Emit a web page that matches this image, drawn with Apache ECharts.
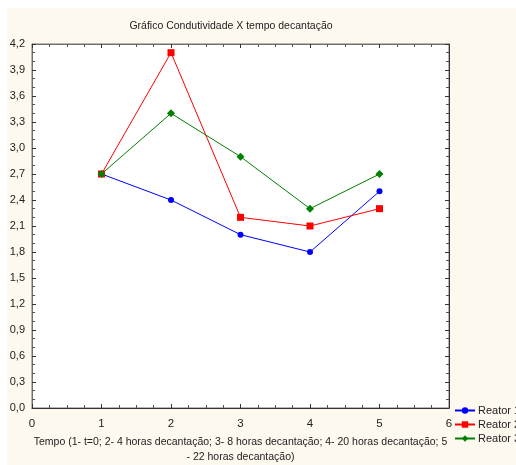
<!DOCTYPE html>
<html><head><meta charset="utf-8">
<script src="https://cdn.jsdelivr.net/npm/echarts@6/dist/echarts.min.js"></script>
<style>html,body{margin:0;padding:0;background:#fff}#c{width:516px;height:465px}</style>
</head><body><div id="c"></div>
<script>
var categories = [1, 2, 3, 4, 5];
var reator1 = [2.7, 2.4, 2.0, 1.8, 2.5];
var reator2 = [2.7, 4.1, 2.2, 2.1, 2.3];
var reator3 = [2.7, 3.4, 2.9, 2.3, 2.7];
var seriesNames = ['Reator 1', 'Reator 2', 'Reator 3'];
var title = 'Gráfico Condutividade X tempo decantação';
var xName = 'Tempo (1- t=0; 2- 4 horas decantação; 3- 8 horas decantação; 4- 20 horas decantação; 5\n- 22 horas decantação)';

function pairs(v){ return categories.map(function(c,i){return [c, v[i]];}); }
var font = 'Liberation Sans, Arial, sans-serif';
var axisCol = '#707070';
var chart = echarts.init(document.getElementById('c'));
var commonX = {
  type:'value', min:0, max:6, interval:1,
  axisLine:{show:true, onZero:false, lineStyle:{color:axisCol}},
  axisTick:{show:true, inside:true, length:4, lineStyle:{color:'#333'}},
  minorTick:{show:true, splitNumber:4, length:3, lineStyle:{color:'#555'}},
  splitLine:{show:false}
};
var commonY = {
  type:'value', min:0, max:4.2, interval:0.3,
  axisLine:{show:true, onZero:false, lineStyle:{color:axisCol}},
  axisTick:{show:true, inside:true, length:4, lineStyle:{color:'#333'}},
  minorTick:{show:true, splitNumber:3, length:3, lineStyle:{color:'#555'}},
  splitLine:{show:false}
};
chart.setOption({
  backgroundColor:'#ffffff',
  animation:false,
  textStyle:{fontFamily:font},
  graphic:[{type:'rect', shape:{x:7, y:8, width:509, height:457}, style:{fill:'#fef9ef'}, z:-10, silent:true}],
  title:{text:title, left:226, top:16, textAlign:'center',
    textStyle:{fontSize:10.5, fontWeight:'normal', color:'#222', fontFamily:font}},
  grid:{left:32, top:44, width:417, height:364, show:true, backgroundColor:'#ffffff', borderColor:axisCol, borderWidth:1,
    containLabel:false, outerBoundsMode:'none'},
  xAxis:[
    Object.assign({}, commonX, {position:'bottom',
      axisLine:{show:true, onZero:false, lineStyle:{color:'#333'}},
      axisLabel:{show:true, color:'#222', fontSize:11.5, margin:10, fontFamily:font},
      name:xName, nameLocation:'middle', nameGap:20,
      nameTextStyle:{color:'#222', fontSize:10.5, lineHeight:15, fontFamily:font}}),
    Object.assign({}, commonX, {position:'top', axisLabel:{show:false}})
  ],
  yAxis:[
    Object.assign({}, commonY, {position:'left',
      axisLabel:{show:true, color:'#222', fontSize:11, margin:7, fontFamily:font,
        formatter:function(v){return v.toFixed(1).replace('.', ',');}}}),
    Object.assign({}, commonY, {position:'right', axisLabel:{show:false},
      axisLine:{show:true, onZero:false, lineStyle:{color:'#333'}}})
  ],
  legend:{orient:'vertical', left:454, top:405, padding:0, itemWidth:20, itemHeight:8, itemGap:3,
    textStyle:{fontSize:11, color:'#222', fontFamily:font, padding:[0,0,0,-2], overflow:'none', width:80},
    data:seriesNames},
  series:[
    {name:seriesNames[0], type:'line', data:pairs(reator1), color:'#0000ff',
      symbol:'circle', symbolSize:6, lineStyle:{width:1}},
    {name:seriesNames[1], type:'line', data:pairs(reator2), color:'#ff0000',
      symbol:'rect', symbolSize:7, lineStyle:{width:1}},
    {name:seriesNames[2], type:'line', data:pairs(reator3), color:'#008000',
      symbol:'diamond', symbolSize:8, lineStyle:{width:1}}
  ]
});
</script></body></html>
